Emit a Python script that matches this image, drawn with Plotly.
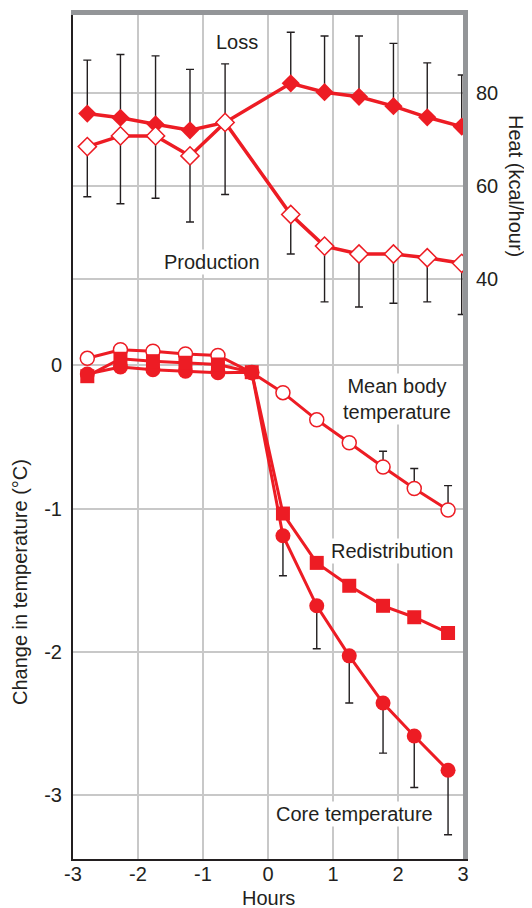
import plotly.graph_objects as go

RED = "#ED1C24"
GRID = "#C8C8C8"
FRAME = "#939598"
BAR = "#231F20"
FONT = "Liberation Sans, Arial, sans-serif"

# heat panel (right axis, kcal/hour)
heat_x = [-2.78, -2.27, -1.73, -1.2, -0.66, 0.35, 0.87, 1.4, 1.93, 2.45, 2.98]
loss = [75.6, 74.7, 73.3, 72.0, 73.7, 82.1, 80.2, 79.2, 77.2, 74.8, 72.8]
loss_err = [11.5, 13.6, 14.7, 13.1, 12.6, 11.0, 12.1, 13.1, 13.5, 11.7, 11.1]
production = [68.5, 70.8, 70.8, 66.5, 73.7, 53.9, 47.1, 45.4, 45.4, 44.6, 43.4]
production_err = [10.8, 14.6, 13.4, 14.2, 15.5, 8.5, 12.0, 11.4, 10.6, 9.5, 11.0]

# temperature panel (left axis, deg C)
temp_x = [-2.78, -2.27, -1.77, -1.27, -0.77, -0.25, 0.23, 0.75, 1.25, 1.77, 2.25, 2.77]
mean_body = [0.05, 0.11, 0.10, 0.08, 0.07, -0.05, -0.19, -0.38, -0.54, -0.71, -0.86, -1.01]
mean_body_err = [0, 0, 0, 0, 0, 0, 0, 0, 0, 0.11, 0.14, 0.17]
redistribution = [-0.075, 0.047, 0.03, 0.019, 0.007, -0.047, -1.035, -1.38, -1.54, -1.68, -1.76, -1.87]
core = [-0.06, -0.01, -0.03, -0.04, -0.05, -0.047, -1.19, -1.68, -2.03, -2.36, -2.59, -2.83]
core_err = [0, 0, 0, 0, 0, 0, 0.28, 0.30, 0.33, 0.35, 0.36, 0.45]

x_ticks = [-3, -2, -1, 0, 1, 2, 3]
temp_ticks = [-3, -2, -1, 0]
heat_ticks = [40, 60, 80]

# the page body adds an 8px offset, so the plot box is set 8px up/left
OFF = 8
L, R, T, B = 73, 463, 15, 859  # plot box as seen on screen

fig = go.Figure()


def err_trace(x, y, err, up, xaxis, yaxis):
    bars = dict(type="data", symmetric=False, color=BAR, thickness=1.4, width=4)
    zeros = [0] * len(err)
    if up:
        bars.update(array=err, arrayminus=zeros)
    else:
        bars.update(array=zeros, arrayminus=err)
    return go.Scatter(x=x, y=y, xaxis=xaxis, yaxis=yaxis, mode="markers",
                      marker=dict(size=1, color="rgba(0,0,0,0)"),
                      error_y=bars, showlegend=False, hoverinfo="skip")


# error bars first so lines and markers sit above them
fig.add_trace(err_trace(heat_x, loss, loss_err, True, "x2", "y2"))
fig.add_trace(err_trace(heat_x, production, production_err, False, "x2", "y2"))
fig.add_trace(err_trace(temp_x, mean_body, [e if e else None for e in mean_body_err], True, "x", "y"))
fig.add_trace(err_trace(temp_x, core, [e if e else None for e in core_err], False, "x", "y"))

fig.add_trace(go.Scatter(x=heat_x, y=loss, xaxis="x2", yaxis="y2", mode="lines+markers",
                         line=dict(color=RED, width=3.5),
                         marker=dict(symbol="diamond", size=14, color=RED),
                         name="Loss"))
fig.add_trace(go.Scatter(x=heat_x, y=production, xaxis="x2", yaxis="y2", mode="lines+markers",
                         line=dict(color=RED, width=3.5),
                         marker=dict(symbol="diamond", size=14, color="white",
                                     line=dict(color=RED, width=1.5)),
                         name="Production"))
fig.add_trace(go.Scatter(x=temp_x, y=mean_body, mode="lines+markers",
                         line=dict(color=RED, width=3),
                         marker=dict(symbol="circle", size=14, color="white",
                                     line=dict(color=RED, width=1.5)),
                         name="Mean body temperature"))
fig.add_trace(go.Scatter(x=temp_x, y=core, mode="lines+markers",
                         line=dict(color=RED, width=3),
                         marker=dict(symbol="circle", size=15, color=RED),
                         name="Core temperature"))
fig.add_trace(go.Scatter(x=temp_x, y=redistribution, mode="lines+markers",
                         line=dict(color=RED, width=3),
                         marker=dict(symbol="square", size=14, color=RED),
                         name="Redistribution"))


def paper(px, py):
    return (px - L) / (R - L), (B - py) / (B - T)


labels = [
    ("Loss", 237, 42),
    ("Production", 212, 262),
    ("Mean body<br>temperature", 397, 399),
    ("Redistribution", 392, 551),
    ("Core temperature", 354, 814),
]
for text, px, py in labels:
    ax, ay = paper(px, py)
    fig.add_annotation(text=text, xref="paper", yref="paper", x=ax, y=ay,
                       xanchor="center", yanchor="middle",
                       showarrow=False, bgcolor="white", borderpad=1,
                       font=dict(size=20, color=BAR), align="center")

titles = [
    ("Change in temperature (°C)", 20, 582, -90),
    ("Heat (kcal/hour)", 516, 186, 90),
    ("Hours", 268, 898, 0),
]
for text, px, py, angle in titles:
    ax, ay = paper(px, py)
    fig.add_annotation(text=text, xref="paper", yref="paper", x=ax, y=ay,
                       xanchor="center", yanchor="middle", textangle=angle,
                       showarrow=False, font=dict(size=20, color=BAR))

fig.update_layout(
    width=532, height=908,
    margin=dict(l=L - OFF, r=532 - R + OFF, t=T - OFF, b=908 - B + OFF, autoexpand=False),
    paper_bgcolor="white", plot_bgcolor="white",
    font=dict(family=FONT, size=20, color=BAR),
    showlegend=False,
    xaxis=dict(range=[-3, 3], tickvals=x_ticks, ticktext=[str(v) for v in x_ticks],
               showgrid=True, gridcolor=GRID, gridwidth=1.5, zeroline=False,
               showline=True, linecolor=BAR, linewidth=2, ticks="",
               ticklabelstandoff=-4),
    # top grey frame line
    xaxis2=dict(range=[-3, 3], overlaying="x", side="top", showgrid=False,
                zeroline=False, showticklabels=False, ticks="",
                showline=True, linecolor=FRAME, linewidth=5),
    yaxis=dict(range=[-3.45, 2.45], tickvals=temp_ticks,
               ticktext=[str(v) for v in temp_ticks],
               showgrid=True, gridcolor=GRID, gridwidth=1.5, zeroline=False,
               showline=True, linecolor=BAR, linewidth=2,
               ticks="outside", ticklen=5, tickcolor="rgba(0,0,0,0)"),
    # right grey frame line carries the heat scale
    yaxis2=dict(range=[-84.7, 96.8], tickvals=heat_ticks, overlaying="y", side="right",
                showgrid=True, gridcolor=GRID, gridwidth=1.5, zeroline=False,
                showline=True, linecolor=FRAME, linewidth=5,
                ticks="outside", ticklen=4, tickcolor="rgba(0,0,0,0)"),
)

fig.write_html("out.html")
